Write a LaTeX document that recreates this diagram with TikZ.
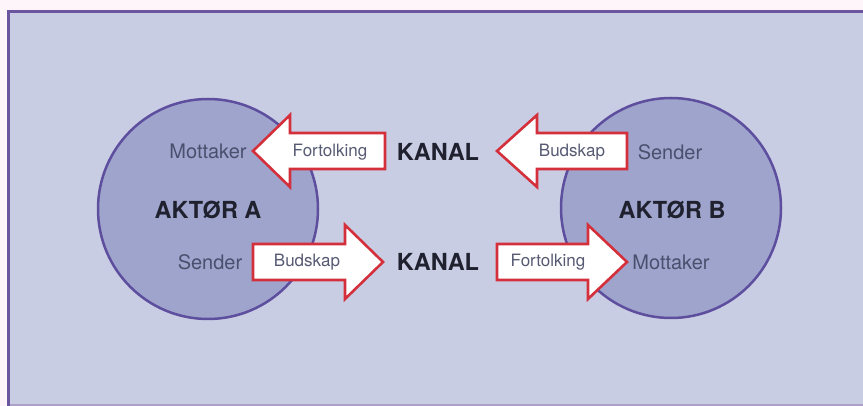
\documentclass[tikz,border=0pt]{standalone}
\usepackage{fontspec}
\setmainfont{TeX Gyre Heros}
\definecolor{bgfill}{HTML}{C9CDE4}
\definecolor{framec}{HTML}{6A559E}
\definecolor{circfill}{HTML}{9FA4CD}
\definecolor{circline}{HTML}{5D4E9E}
\definecolor{arrred}{HTML}{D3303C}
\definecolor{lbl}{HTML}{4A4F6E}
\definecolor{albl}{HTML}{565A72}
\definecolor{bold}{HTML}{20212E}
\tikzset{
  actor/.style={circle, draw=circline, line width=2.5pt, fill=circfill, minimum size=220pt, inner sep=0pt},
  bigarrow/.style={draw=arrred, line width=2.6pt, fill=white, line join=miter},
  role/.style={text=lbl, font=\fontsize{20}{22}\selectfont, inner sep=0pt},
  arrlabel/.style={text=albl, font=\fontsize{17}{19}\selectfont, inner sep=0pt},
  title/.style={text=bold, font=\bfseries\fontsize{23.5}{26}\selectfont, inner sep=0pt}
}
\begin{document}
\begin{tikzpicture}[x=1pt,y=-1pt]
\useasboundingbox (0,0) rectangle (863,406);
\fill[white!96!magenta] (0,0) rectangle (863,406);
\fill[bgfill] (7,10) rectangle (863,406);
\draw[framec!55, line width=2pt] (7,404.5) -- (863,404.5);
\draw[framec, line width=3pt] (8.5,406) -- (8.5,11.5) -- (863,11.5);
% actors
\node[actor] (A) at (208,209) {};
\node[actor] (B) at (671,208) {};
% arrows
\draw[bigarrow] (385,133) -- (290,133) -- (290,115) -- (253,151) -- (290,187) -- (290,169) -- (385,169) -- cycle;
\draw[bigarrow] (253,244) -- (345,244) -- (345,225) -- (383,262) -- (345,299) -- (345,280) -- (253,280) -- cycle;
\draw[bigarrow] (627,133) -- (537,133) -- (537,115) -- (497,151) -- (537,187) -- (537,169) -- (627,169) -- cycle;
\draw[bigarrow] (497,244) -- (588,244) -- (588,225) -- (627,262) -- (588,299) -- (588,280) -- (497,280) -- cycle;
% texts
\node[role] (mA) at (208,151) {Mottaker};
\node[title] (tA) at (208,210) {AKTØR A};
\node[role] (sA) at (210,262) {Sender};
\node[role] (sB) at (670,152) {Sender};
\node[title] (tB) at (672,210) {AKTØR B};
\node[role] (mB) at (671,262) {Mottaker};
\node[title] (k1) at (438,152) {KANAL};
\node[title] (k2) at (438,262) {KANAL};
\node[arrlabel] (f1) at (330,152) {Fortolking};
\node[arrlabel] (b1) at (307,262) {Budskap};
\node[arrlabel] (b2) at (572,152) {Budskap};
\node[arrlabel] (f2) at (548,262) {Fortolking};
\end{tikzpicture}
\end{document}
